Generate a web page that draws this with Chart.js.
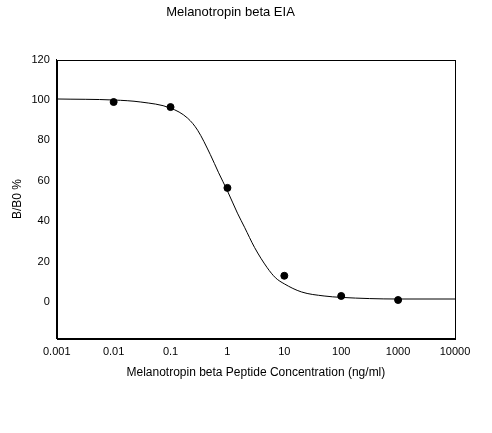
<!DOCTYPE html>
<html>
<head>
<meta charset="utf-8">
<script src="https://cdn.jsdelivr.net/npm/chart.js@4"></script>
<style>
  html, body { margin: 0; padding: 0; background: #fff; }
  #wrap { width: 492px; height: 433px; }
</style>
</head>
<body>
<div id="wrap"><canvas id="chart"></canvas></div>
<script>
// measured points
var concX = [0.01, 0.1, 1, 10, 100, 1000];
var bb0 = [99, 96.5, 56.5, 13, 3, 1];

// fitted curve
var curveX = [0.001, 0.01, 0.03, 0.1, 0.2, 0.3, 0.5, 0.7, 1, 1.5, 2, 3, 5, 7, 10, 20, 50, 100, 1000, 10000];
var curveY = [100.5, 100, 99, 96, 91, 85, 73, 64, 55, 44, 37, 27, 17, 12, 9, 5, 3, 2.3, 1.5, 1.5];

var xTicks = [0.001, 0.01, 0.1, 1, 10, 100, 1000, 10000];
var yTicks = [0, 20, 40, 60, 80, 100, 120];

var frame = {
    id: 'frame',
    afterDraw: function(c) {
        var a = c.chartArea, ctx = c.ctx;
        ctx.save();
        ctx.strokeStyle = '#000';
        ctx.lineWidth = 1;
        ctx.strokeRect(Math.round(a.left) + 0.5, Math.round(a.top) + 0.5,
            Math.round(a.right - a.left), Math.round(a.bottom - a.top));
        ctx.restore();
    }
};

new Chart(document.getElementById('chart'), {
    type: 'scatter',
    data: {
        datasets: [{
            data: curveX.map(function(x, i) { return {x: x, y: curveY[i]}; }),
            showLine: true,
            borderColor: '#000',
            borderWidth: 1,
            pointRadius: 0,
            cubicInterpolationMode: 'monotone'
        }, {
            data: concX.map(function(x, i) { return {x: x, y: bb0[i]}; }),
            backgroundColor: '#000',
            borderColor: '#000',
            pointRadius: 3.5
        }]
    },
    options: {
        responsive: true,
        maintainAspectRatio: false,
        animation: false,
        layout: { padding: { left: 6, right: 37, top: 0, bottom: 49 } },
        plugins: {
            legend: { display: false },
            tooltip: { enabled: false },
            title: {
                display: true,
                text: 'Melanotropin beta EIA',
                color: '#000',
                font: { family: 'Liberation Sans', size: 13, weight: 'normal' },
                padding: { top: 5, bottom: 39 }
            }
        },
        scales: {
            x: {
                type: 'logarithmic',
                min: 0.001,
                max: 10000,
                afterBuildTicks: function(s) { s.ticks = xTicks.map(function(v) { return {value: v}; }); },
                grid: { display: false, drawTicks: true, tickLength: 4, tickColor: '#000' },
                border: { color: '#000' },
                ticks: {
                    color: '#000',
                    maxRotation: 0,
                    font: { family: 'Liberation Sans', size: 11 },
                    callback: function(v) { return String(v); }
                },
                title: {
                    display: true,
                    text: 'Melanotropin beta Peptide Concentration (ng/ml)',
                    color: '#000',
                    font: { family: 'Liberation Sans', size: 12 }
                }
            },
            y: {
                min: -18,
                max: 120,
                afterBuildTicks: function(s) { s.ticks = yTicks.map(function(v) { return {value: v}; }); },
                grid: { display: false, drawTicks: true, tickLength: 4, tickColor: '#000' },
                border: { color: '#000' },
                ticks: { color: '#000', font: { family: 'Liberation Sans', size: 11 } },
                title: {
                    display: true,
                    text: 'B/B0 %',
                    color: '#000',
                    font: { family: 'Liberation Sans', size: 12 }
                }
            }
        }
    },
    plugins: [frame]
});
</script>
</body>
</html>
